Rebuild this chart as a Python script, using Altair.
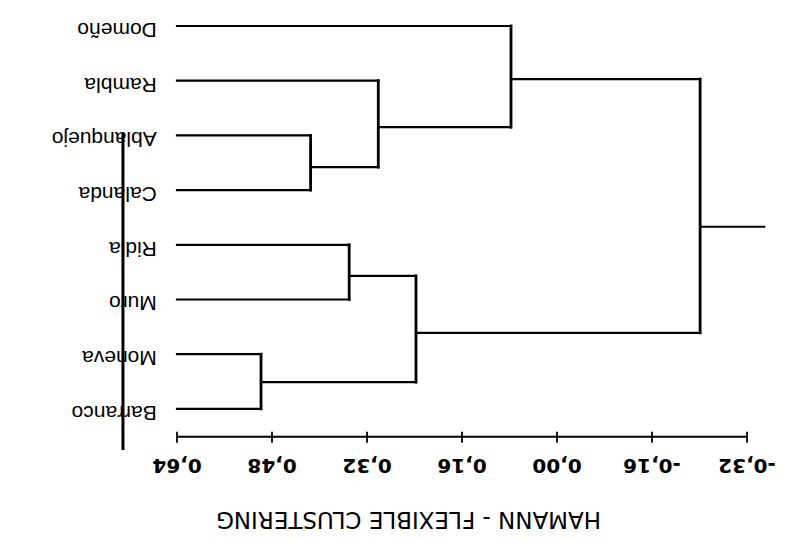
import altair as alt
import pandas as pd

# ---- data ----
leaves = ["Domeño", "Rambla", "Ablanquejo", "Calanda", "Ridla", "Muro", "Moneva", "Barranco"]
leaf_height = 0.64
merge_names = ["n1", "n2", "n3", "n4", "n5", "n6", "n7"]
merge_a = ["Ablanquejo", "Rambla", "Domeño", "Ridla", "Moneva", "n4", "n3"]
merge_b = ["Calanda", "n1", "n2", "Muro", "Barranco", "n5", "n6"]
merge_height = [0.415, 0.301, 0.0775, 0.350, 0.4985, 0.2375, -0.241]
merge_pos = [2.58, 1.85, 0.97, 4.57, 6.51, 5.61, 3.67]
root_end = -0.349
tick_values = [0.64, 0.48, 0.32, 0.16, 0.00, -0.16, -0.32]
tick_labels = ["0,64", "0,48", "0,32", "0,16", "0,00", "-0,16", "-0,32"]
axis_title = "HAMANN - FLEXIBLE CLUSTERING"

# ---- build dendrogram segments ----
height = {name: leaf_height for name in leaves}
pos = {name: float(i) for i, name in enumerate(leaves)}
for n, a, b, h, p in zip(merge_names, merge_a, merge_b, merge_height, merge_pos):
    height[n] = h
    pos[n] = p

hrows, vrows = [], []
for n, a, b in zip(merge_names, merge_a, merge_b):
    for c in (a, b):
        hrows.append({"x": height[c], "x2": height[n], "y": pos[c]})
    vrows.append({"x": height[n], "y": pos[a], "y2": pos[b]})
root = merge_names[-1]
hrows.append({"x": height[root], "x2": root_end, "y": pos[root]})

hdf = pd.DataFrame(hrows)
vdf = pd.DataFrame(vrows)
labels_df = pd.DataFrame({"name": leaves, "y": [pos[l] for l in leaves], "x": 0.674})

axis_y = 7.51
axis_df = pd.DataFrame({"x": [tick_values[0]], "x2": [tick_values[-1]], "y": [axis_y]})
ticks_df = pd.DataFrame({"x": tick_values, "y": axis_y - 0.09, "y2": axis_y + 0.11})
ticklab_df = pd.DataFrame({"x": tick_values, "label": tick_labels, "y": 8.03})
title_df = pd.DataFrame({"x": [0.25], "y": [9.01], "t": [axis_title]})
bar_df = pd.DataFrame({"x": [0.731], "y": [1.96], "y2": [7.75]})

xs = alt.Scale(domain=[-0.4008, 0.9246], reverse=True, nice=False, zero=False)
ys = alt.Scale(domain=[-0.329, 9.269], reverse=True, nice=False, zero=False)

def X(f="x"):
    return alt.X(f, type="quantitative", scale=xs, axis=None)

def Y(f="y"):
    return alt.Y(f, type="quantitative", scale=ys, axis=None)

horiz = alt.Chart(hdf).mark_rule(color="black", strokeWidth=2.2, strokeCap="square").encode(
    x=X(), x2="x2", y=Y())
vert = alt.Chart(vdf).mark_rule(color="black", strokeWidth=2.8, strokeCap="square").encode(
    x=X(), y=Y(), y2="y2")
leaf_text = alt.Chart(labels_df).mark_text(
    angle=180, align="left", baseline="middle", dy=-3, font="Liberation Sans", fontSize=21,
    color="black").encode(x=X(), y=Y(), text="name")
axis_line = alt.Chart(axis_df).mark_rule(color="black", strokeWidth=2).encode(
    x=X(), x2="x2", y=Y())
ticks = alt.Chart(ticks_df).mark_rule(color="black", strokeWidth=1.8).encode(
    x=X(), y=Y(), y2="y2")
tick_text = alt.Chart(ticklab_df).mark_text(
    angle=180, align="center", baseline="middle", font="DejaVu Sans", fontWeight="bold",
    fontSize=20, color="black").encode(x=X(), y=Y(), text="label")
title_text = alt.Chart(title_df).mark_text(
    angle=180, align="center", baseline="middle", font="DejaVu Sans", fontSize=23,
    color="black").encode(x=X(), y=Y(), text="t")
bar = alt.Chart(bar_df).mark_rule(color="black", strokeWidth=3).encode(
    x=X(), y=Y(), y2="y2")

chart = alt.layer(leaf_text, horiz, vert, axis_line, ticks, tick_text, title_text, bar).properties(
    width=787, height=525, padding=0, autosize="none",
    background="white").configure_view(stroke=None)

chart.save("out.html", embed_options={"renderer": "svg", "actions": False})
